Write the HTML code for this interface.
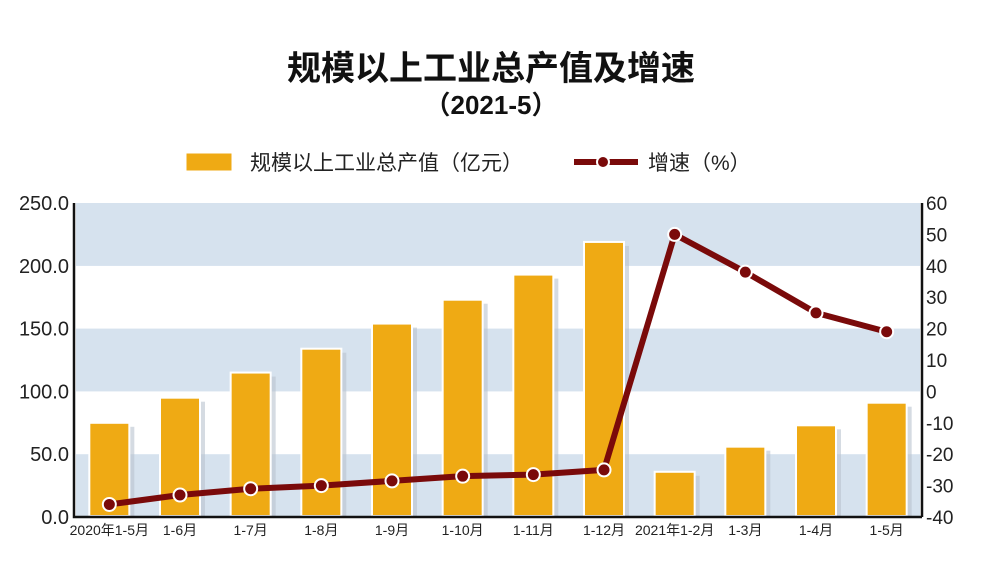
<!DOCTYPE html>
<html><head><meta charset="utf-8"><style>
body{margin:0;background:#fff;width:982px;height:576px;overflow:hidden}
text{font-family:"Liberation Sans","Noto Sans CJK SC",sans-serif}
</style></head><body>
<svg id="chart" width="982" height="576">
<text x="491" y="80" text-anchor="middle" font-size="34" font-weight="bold" fill="#111">规模以上工业总产值及增速</text>
<text x="491" y="114" text-anchor="middle" font-size="26" font-weight="bold" fill="#111">（2021-5）</text>
<g>
<rect x="186" y="153" width="46" height="18" fill="#efaa14" stroke="#fff"/>
<text x="250" y="170" font-size="21" fill="#222">规模以上工业总产值（亿元）</text>
<line x1="574" y1="162" x2="638" y2="162" stroke="#7a0a0a" stroke-width="6"/>
<circle cx="603" cy="162" r="6" fill="#7a0a0a" stroke="#fff" stroke-width="2"/>
<text x="648" y="170" font-size="21" fill="#222">增速（%）</text>
</g>
<g id="bands"></g><g id="bars"></g><g id="line"></g><g id="axes"></g>
</svg>
<script>
const categories=["2020年1-5月","1-6月","1-7月","1-8月","1-9月","1-10月","1-11月","1-12月","2021年1-2月","1-3月","1-4月","1-5月"];
const outputValues=[75,95,115,134,154,173,193,219,36,56,73,91];
const growthValues=[-36,-33,-31,-30,-28.5,-27,-26.5,-25,50,38,25,19];
const leftTicks=[0,50,100,150,200,250];
const rightTicks=[-40,-30,-20,-10,0,10,20,30,40,50,60];
const NS="http://www.w3.org/2000/svg";
const X0=74,X1=922,Y0=517,Y1=203;
const step=(X1-X0)/categories.length;
const xc=i=>X0+step*(i+0.5);
const yL=v=>Y0-(v/250)*(Y0-Y1);
const yR=v=>Y0-((v+40)/100)*(Y0-Y1);
function mk(tag,attrs,parent){const e=document.createElementNS(NS,tag);for(const k in attrs)e.setAttribute(k,attrs[k]);document.getElementById(parent).appendChild(e);return e;}
for(let i=0;i<leftTicks.length-1;i+=2){
 const r=mk('rect',{x:X0+2,y:yL(leftTicks[i+1]),width:X1-X0-4,height:yL(leftTicks[i])-yL(leftTicks[i+1]),fill:'#d6e2ee'},'bands');
 
 
}
{const r=mk('rect',{x:X0+2,y:yL(250),width:X1-X0-4,height:yL(200)-yL(250),fill:'#d6e2ee'},'bands');

}
const bw=40;
outputValues.forEach((v,i)=>{
 mk('rect',{x:xc(i)-bw/2+5,y:yL(v)+4,width:bw,height:Y0-yL(v)-4,fill:'#b9c3cf',opacity:0.6},'bars');
 const b=mk('rect',{x:xc(i)-bw/2,y:yL(v),width:bw,height:Y0-yL(v)-1,fill:'#efaa14',stroke:'#fff','stroke-width':2},'bars');
 
 
});
const pts=growthValues.map((v,i)=>xc(i)+','+yR(v)).join(' ');
const pl=mk('polyline',{points:pts,fill:'none',stroke:'#7a0a0a','stroke-width':6,'stroke-linejoin':'round'},'line');


growthValues.forEach((v,i)=>{
 const c=mk('circle',{cx:xc(i),cy:yR(v),r:6.5,fill:'#7a0a0a',stroke:'#fff','stroke-width':2},'line');
 
 
});
const ax=mk('path',{d:`M${X0},${Y1} V${Y0} H${X1} M${X1},${Y1} V${Y0}`,stroke:'#111','stroke-width':2.5,fill:'none'},'axes');


leftTicks.forEach(v=>{
 const t=mk('text',{x:X0-5,y:yL(v)+7,'text-anchor':'end','font-size':20,fill:'#222'},'axes');t.textContent=v.toFixed(1);
 
 
});
rightTicks.forEach(v=>{
 const t=mk('text',{x:X1+4,y:yR(v)+7,'font-size':19,fill:'#222'},'axes');t.textContent=v;
 
 
});
categories.forEach((c,i)=>{
 const t=mk('text',{x:xc(i),y:Y0+18,'text-anchor':'middle','font-size':14,fill:'#222'},'axes');t.textContent=c;
 
 
});
</script>
</body></html>
